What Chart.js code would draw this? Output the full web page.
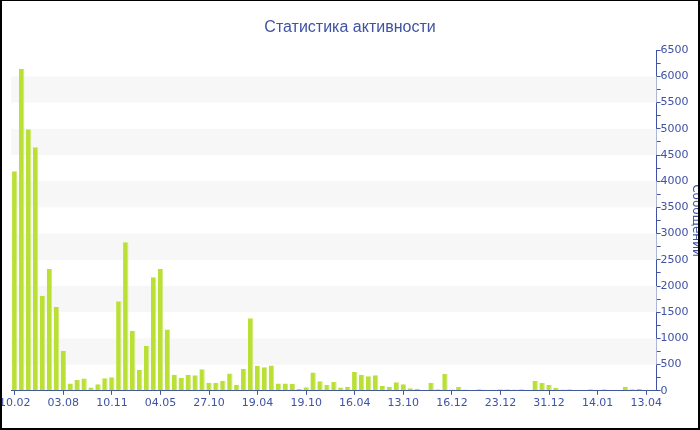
<!DOCTYPE html>
<html>
<head>
<meta charset="utf-8">
<script src="https://cdn.jsdelivr.net/npm/chart.js@4.4.1/dist/chart.umd.min.js"></script>
<style>
  html, body { margin: 0; padding: 0; background: #fff; }
  #wrap { position: relative; width: 700px; height: 430px; overflow: hidden; }
  #box { position: absolute; left: -3px; top: 0; width: 706px; height: 430px; }
  #frame { position: absolute; left: 0; top: 0; width: 700px; height: 430px; box-sizing: border-box;
           border-left: 2px solid #000; border-top: 1px solid #000; border-right: 2px solid #000; border-bottom: 2px solid #000; pointer-events: none; }
</style>
</head>
<body>
<div id="wrap">
  <div id="box"><canvas id="c"></canvas></div>
  <div id="frame"></div>
</div>
<script>
// ---- data ----
const tickLabels = ['10.02','03.08','10.11','04.05','27.10','19.04','19.10','16.04','13.10','16.12','23.12','31.12','14.01','13.04'];
const labelStep = 7;
const messages = [
  4190, 6140, 4990, 4650, 1815, 2325, 1600, 765, 140, 205,
  235, 65, 125, 240, 260, 1710, 2835, 1145, 395, 860,
  2165, 2325, 1170, 305, 250, 305, 295, 410, 155, 155,
  190, 330, 115, 420, 1385, 480, 450, 485, 140, 140,
  135, 40, 70, 350, 180, 110, 170, 65, 75, 360,
  305, 280, 295, 90, 75, 165, 125, 50, 40, 20,
  155, 30, 325, 25, 75, 25, 15, 30, 20, 20,
  30, 30, 25, 30, 20, 190, 155, 110, 55, 25,
  30, 20, 20, 30, 20, 30, 20, 20, 75, 30,
  40, 20, 20
];
const categories = messages.map((v, i) => (i % labelStep === 0 ? (tickLabels[i / labelStep] || '') : ''));

const blue = '#3f52a3';
const tickFont = { family: "'DejaVu Sans', Verdana, sans-serif", size: 11 };
Chart.defaults.color = blue;

const bands = {
  id: 'bands',
  beforeDatasetsDraw(chart) {
    const { ctx, chartArea: a, scales: { y } } = chart;
    ctx.save();
    ctx.fillStyle = '#f7f7f7';
    for (let v = 500; v < 6500; v += 1000) {
      const y1 = y.getPixelForValue(v + 500), y0 = y.getPixelForValue(v);
      ctx.fillRect(a.left, y1, a.right - a.left, y0 - y1);
    }
    ctx.restore();
  }
};

new Chart(document.getElementById('c'), {
  type: 'bar',
  data: {
    labels: categories,
    datasets: [{
      label: 'Сообщений',
      data: messages,
      backgroundColor: '#bbe035',
      borderColor: '#cfe97a',
      borderWidth: { left: 0, right: 1, top: 0, bottom: 0 },
      borderSkipped: 'bottom',
      barPercentage: 0.78,
      categoryPercentage: 1.0
    }]
  },
  options: {
    responsive: true,
    maintainAspectRatio: false,
    animation: false,
    layout: { padding: { left: 0, right: 0, top: 0, bottom: 18 } },
    plugins: {
      legend: { display: false },
      tooltip: { enabled: false },
      title: {
        display: true,
        text: 'Статистика активности',
        color: blue,
        font: { family: "'Liberation Sans', Arial, sans-serif", size: 16, weight: 'normal' },
        padding: { top: 18, bottom: 13 }
      }
    },
    scales: {
      x: {
        offset: true,
        grid: {
          offset: false,
          drawOnChartArea: false,
          drawTicks: true,
          tickLength: 4,
          color: (c) => (c.tick && c.tick.label ? blue : 'rgba(0,0,0,0)')
        },
        border: { display: true, color: blue, width: 1 },
        ticks: { autoSkip: false, maxRotation: 0, minRotation: 0, padding: 2, color: blue, font: tickFont }
      },
      y: {
        position: 'right',
        min: 0,
        max: 6500,
        grid: { drawOnChartArea: false, drawTicks: true, tickLength: 4, color: blue },
        border: { display: true, color: blue, width: 1 },
        ticks: {
          stepSize: 250,
          autoSkip: false,
          padding: 0,
          color: blue,
          font: tickFont,
          callback: (v) => (v % 500 === 0 ? String(v) : '')
        },
        title: {
          display: true, text: 'Сообщений', color: blue,
          font: { family: "'DejaVu Sans', Verdana, sans-serif", size: 12 },
          padding: { top: 0, bottom: 0 }
        }
      }
    }
  },
  plugins: [bands]
});
</script>
</body>
</html>
